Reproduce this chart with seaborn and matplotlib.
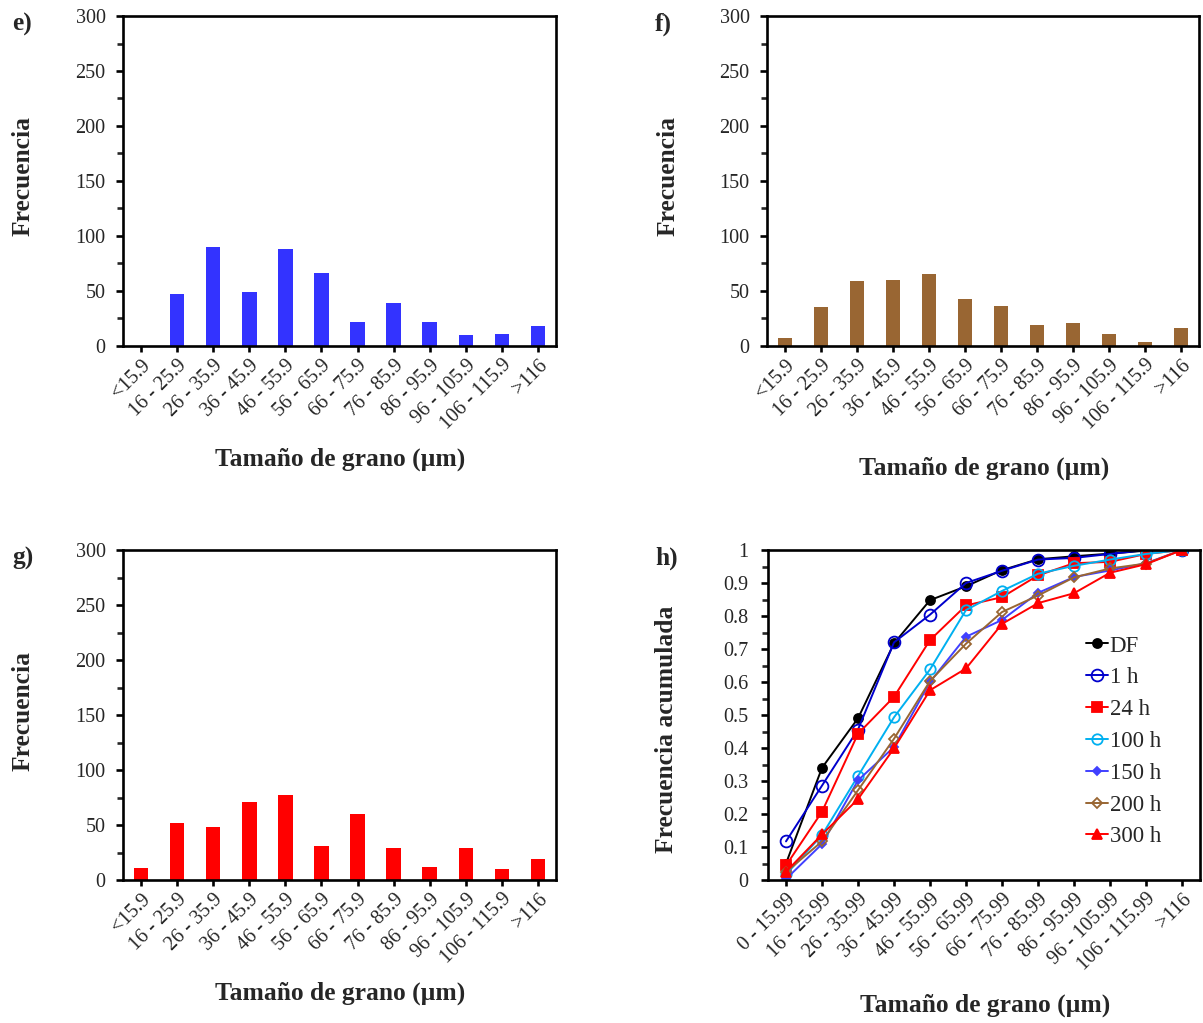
import matplotlib
matplotlib.use("Agg")
import matplotlib.pyplot as plt
from matplotlib.ticker import MultipleLocator, FuncFormatter
import seaborn as sns
import pandas as pd

# Grain-size classes (histograms) and cumulative classes
bins_hist = ["<15.9", "16 - 25.9", "26 - 35.9", "36 - 45.9", "46 - 55.9", "56 - 65.9",
             "66 - 75.9", "76 - 85.9", "86 - 95.9", "96 - 105.9", "106 - 115.9", ">116"]
bins_cum = ["0 - 15.99", "16 - 25.99", "26 - 35.99", "36 - 45.99", "46 - 55.99", "56 - 65.99",
            "66 - 75.99", "76 - 85.99", "86 - 95.99", "96 - 105.99", "106 - 115.99", ">116"]

# Frequencies per class
freq_e = [0, 47, 90, 49, 88, 66, 22, 39, 22, 10, 11, 18]
freq_f = [7, 35, 59, 60, 65, 43, 36, 19, 21, 11, 4, 16]
freq_g = [11, 52, 48, 71, 77, 31, 60, 29, 12, 29, 10, 19]

# Cumulative frequency per treatment time
cum_df = [0.05, 0.34, 0.49, 0.717, 0.848, 0.89, 0.939, 0.972, 0.981, 0.989, 0.998, 1.0]
cum_1h = [0.117, 0.286, 0.456, 0.72, 0.804, 0.90, 0.937, 0.971, 0.976, 0.988, 1.0, 1.0]
cum_24h = [0.044, 0.207, 0.443, 0.555, 0.727, 0.832, 0.857, 0.923, 0.96, 0.964, 0.988, 1.0]
cum_100h = [0.017, 0.136, 0.315, 0.493, 0.638, 0.818, 0.876, 0.928, 0.952, 0.971, 0.988, 1.0]
cum_150h = [0.003, 0.109, 0.302, 0.403, 0.60, 0.737, 0.788, 0.87, 0.918, 0.938, 0.96, 1.0]
cum_200h = [0.024, 0.117, 0.272, 0.428, 0.603, 0.716, 0.812, 0.862, 0.917, 0.944, 0.959, 1.0]
cum_300h = [0.025, 0.138, 0.245, 0.399, 0.575, 0.641, 0.776, 0.839, 0.869, 0.931, 0.957, 1.0]

sns.set_style("ticks")
plt.rcParams["font.family"] = ["Liberation Serif", "DejaVu Serif"]

TICK_FS = 14.5
LABEL_FS = 18.4
SPINE_LW = 1.9

fig = plt.figure(figsize=(12.03, 10.23), dpi=100)
W, H = 1203.0, 1023.0


def add_axes(left, right, top, bottom):
    return fig.add_axes([left / W, 1 - bottom / H, (right - left) / W, (bottom - top) / H])


ax_e = add_axes(123, 556, 16, 346)
ax_f = add_axes(767, 1199, 16, 346)
ax_g = add_axes(123, 556, 550, 880)
ax_h = add_axes(768, 1200, 550, 880)


def style_axes(ax):
    for sp in ax.spines.values():
        sp.set_linewidth(SPINE_LW)
        sp.set_color("black")
    ax.tick_params(axis="both", which="major", direction="out", length=5, width=SPINE_LW,
                   labelsize=TICK_FS, top=False, right=False, color="black")
    ax.tick_params(axis="y", which="minor", direction="out", length=4, width=SPINE_LW,
                   right=False)
    ax.tick_params(axis="x", which="minor", bottom=False)
    ax.tick_params(axis="y", which="major", pad=7.5)
    ax.tick_params(axis="x", which="major", pad=3, length=4)


def set_labels(ax, ylabel, ylab_x, ylab_y, xlab_y):
    ax.set_ylabel(ylabel, fontsize=LABEL_FS, fontweight="bold")
    ax.yaxis.label.set_va("center")
    ax.yaxis.set_label_coords(ylab_x, ylab_y)
    ax.set_xlabel("Tamaño de grano (µm)", fontsize=LABEL_FS, fontweight="bold")
    ax.xaxis.label.set_va("center")
    ax.xaxis.set_label_coords(0.502, xlab_y)


def hist_panel(ax, values, color, ylabel_y, xlabel_y):
    df = pd.DataFrame({"clase": bins_hist, "frecuencia": values})
    sns.barplot(data=df, x="clase", y="frecuencia", color=color, saturation=1,
                width=0.4, linewidth=0, ax=ax)
    ax.set_xlim(-0.5, len(bins_hist) - 0.5)
    ax.set_ylim(0, 300)
    ax.yaxis.set_major_locator(MultipleLocator(50))
    ax.yaxis.set_minor_locator(MultipleLocator(25))
    style_axes(ax)
    ax.set_xticks(range(len(bins_hist)))
    ax.set_xticklabels(bins_hist, rotation=45, ha="right", rotation_mode="anchor")
    set_labels(ax, "Frecuencia", -0.23, ylabel_y, xlabel_y)


hist_panel(ax_e, freq_e, "#3333FF", 0.514, -0.342)
hist_panel(ax_f, freq_f, "#996633", 0.514, -0.370)
hist_panel(ax_g, freq_g, "#FF0000", 0.512, -0.342)

# Cumulative distribution panel
series = [
    ("DF", cum_df, "black", "o", 6.5, "black"),
    ("1 h", cum_1h, "#0000CC", "o", 8.5, "none"),
    ("24 h", cum_24h, "#FF0000", "s", 6.5, "#FF0000"),
    ("100 h", cum_100h, "#00B0F0", "o", 7.5, "none"),
    ("150 h", cum_150h, "#4040FF", "D", 4.5, "#4040FF"),
    ("200 h", cum_200h, "#996633", "D", 5.0, "none"),
    ("300 h", cum_300h, "#FF0000", "^", 7.0, "#FF0000"),
]
xpos = list(range(len(bins_cum)))
for label, vals, color, marker, ms, face in series:
    sns.lineplot(x=xpos, y=vals, ax=ax_h, color=color, marker=marker, markersize=ms,
                 markerfacecolor=face, markeredgecolor=color, markeredgewidth=1.3,
                 linewidth=1.4, label=label, sort=False)

ax_h.set_xlim(-0.5, len(bins_cum) - 0.5)
ax_h.set_ylim(0, 1)
ax_h.yaxis.set_major_locator(MultipleLocator(0.1))
ax_h.yaxis.set_minor_locator(MultipleLocator(0.05))
ax_h.yaxis.set_major_formatter(FuncFormatter(lambda v, p: f"{v:.1f}".rstrip("0").rstrip(".")))
style_axes(ax_h)
ax_h.tick_params(axis="y", which="major", pad=9)
ax_h.set_xticks(xpos)
ax_h.set_xticklabels(bins_cum, rotation=45, ha="right", rotation_mode="anchor")
set_labels(ax_h, "Frecuencia acumulada", -0.236, 0.458, -0.379)
leg = ax_h.legend(loc="upper left", bbox_to_anchor=(0.735, 0.741), frameon=False,
                  fontsize=16.5, handlelength=1.0, handletextpad=0.05, labelspacing=0.47,
                  borderpad=0, borderaxespad=0)

# Panel letters
for txt, x, y in [("e)", 12, 24), ("f)", 655, 24), ("g)", 12, 558), ("h)", 655, 558)]:
    fig.text(x / W, 1 - y / H, txt, fontsize=LABEL_FS, fontweight="bold", ha="left", va="center")

fig.savefig("out.png", dpi=100)
